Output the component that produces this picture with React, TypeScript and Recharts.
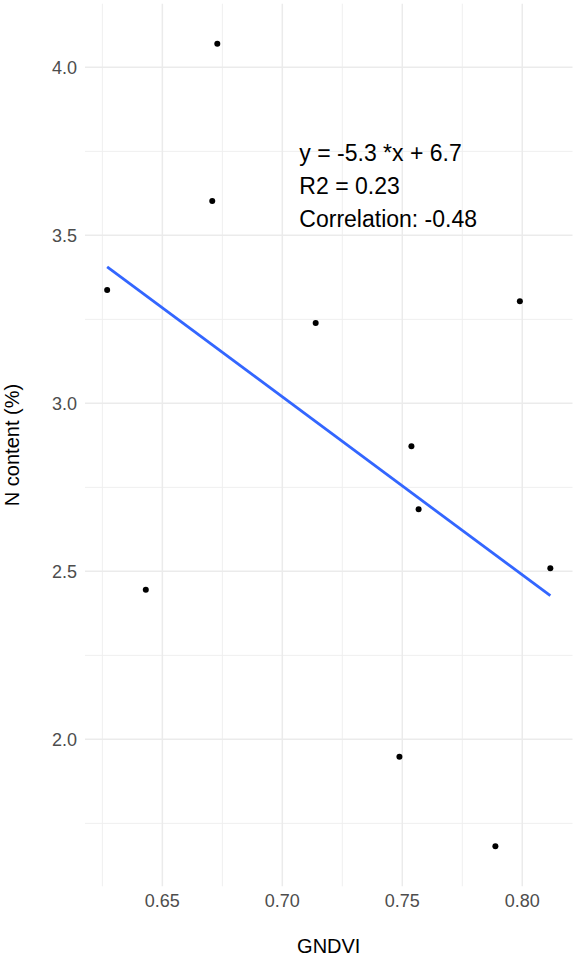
import React from 'react';
import { ScatterChart, Scatter, XAxis, YAxis, CartesianGrid, ReferenceLine } from 'recharts';

const gndvi = [0.627, 0.6729, 0.6708, 0.799, 0.7139, 0.7538, 0.7568, 0.8117, 0.6431, 0.7488, 0.7888];
const nContent = [3.337, 4.07, 3.602, 3.304, 3.239, 2.872, 2.685, 2.509, 2.445, 1.948, 1.682];
const xTicks = [0.65, 0.7, 0.75, 0.8];
const xMinorTicks = [0.625, 0.675, 0.725, 0.775];
const yTicks = [2.0, 2.5, 3.0, 3.5, 4.0];
const yMinorTicks = [1.75, 2.25, 2.75, 3.25, 3.75];
const annotationLines = ['y = -5.3 *x + 6.7', 'R2 = 0.23', 'Correlation: -0.48'];
const annotationAnchor = [{ x: 0.7071, y: 3.722 }];

const points = gndvi.map((x, i) => ({ x, y: nContent[i] }));

// least squares fit
const n = gndvi.length;
const mx = gndvi.reduce((a, b) => a + b, 0) / n;
const my = nContent.reduce((a, b) => a + b, 0) / n;
let sxy = 0;
let sxx = 0;
for (let i = 0; i < n; i++) {
  sxy += (gndvi[i] - mx) * (nContent[i] - my);
  sxx += (gndvi[i] - mx) ** 2;
}
const slope = sxy / sxx;
const intercept = my - slope * mx;
const xLo = Math.min(...gndvi);
const xHi = Math.max(...gndvi);
const fitSegment = [
  { x: xLo, y: intercept + slope * xLo },
  { x: xHi, y: intercept + slope * xHi },
];

const expand = (arr: number[]) => {
  const lo = Math.min(...arr);
  const hi = Math.max(...arr);
  const r = hi - lo;
  return [lo - 0.05 * r, hi + 0.05 * r];
};
const xDomain = expand(gndvi);
const yDomain = expand(nContent);

const FONT = '"Liberation Sans", Arial, Helvetica, sans-serif';

const XTitle = (props: any) => {
  const { viewBox } = props;
  return (
    <text
      x={viewBox.x + viewBox.width / 2}
      y={viewBox.y + 66.4}
      textAnchor="middle"
      fontFamily={FONT}
      fontSize={20}
      fill="#000"
    >
      GNDVI
    </text>
  );
};

const YTitle = (props: any) => {
  const { viewBox } = props;
  const x = viewBox.x + 19.3;
  const y = viewBox.y + viewBox.height / 2;
  return (
    <text
      x={x}
      y={y}
      transform={`rotate(-90, ${x}, ${y})`}
      textAnchor="middle"
      fontFamily={FONT}
      fontSize={20}
      fill="#000"
    >
      N content (%)
    </text>
  );
};

const Dot = (p: any) => <circle cx={p.cx} cy={p.cy} r={3} fill="#000" />;

const Annotation = (p: any) => (
  <text x={p.cx} y={p.cy} fontFamily={FONT} fontSize={23} fill="#000" textAnchor="start">
    {annotationLines.map((l, i) => (
      <tspan key={i} x={p.cx} dy={i === 0 ? 0 : 33.3}>
        {l}
      </tspan>
    ))}
  </text>
);

export default function App() {
  return (
    <div style={{ position: 'absolute', left: 0, top: 0, width: 576, height: 957, background: '#fff' }}>
      <ScatterChart width={576} height={957} margin={{ top: 3.7, right: 3.5, bottom: 0, left: 0 }}>
        <CartesianGrid
          verticalValues={xMinorTicks}
          horizontalValues={yMinorTicks}
          stroke="#EFEFEF"
          strokeWidth={1}
        />
        <CartesianGrid verticalValues={xTicks} horizontalValues={yTicks} stroke="#EBEBEB" strokeWidth={1.5} />
        <XAxis
          type="number"
          dataKey="x"
          domain={xDomain}
          allowDataOverflow
          ticks={xTicks}
          tickFormatter={(v: number) => v.toFixed(2)}
          tickLine={false}
          axisLine={false}
          tickSize={6}
          tickMargin={2}
          height={70.7}
          tick={{ fill: '#4D4D4D', fontSize: 18, fontFamily: FONT }}
          label={<XTitle />}
        />
        <YAxis
          type="number"
          dataKey="y"
          domain={yDomain}
          allowDataOverflow
          ticks={yTicks}
          tickFormatter={(v: number) => v.toFixed(1)}
          tickLine={false}
          axisLine={false}
          tickSize={6}
          tickMargin={2}
          width={85}
          tick={{ fill: '#4D4D4D', fontSize: 18, fontFamily: FONT }}
          label={<YTitle />}
        />
        <ReferenceLine segment={fitSegment} stroke="#3366FF" strokeWidth={2.8} />
        <Scatter data={points} shape={<Dot />} isAnimationActive={false} />
        <Scatter data={annotationAnchor} shape={<Annotation />} isAnimationActive={false} />
      </ScatterChart>
    </div>
  );
}
